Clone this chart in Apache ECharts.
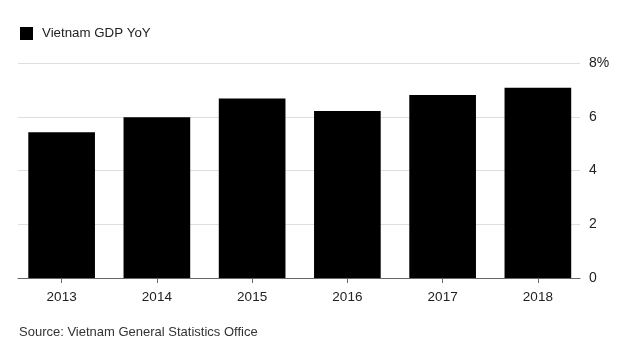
<!DOCTYPE html>
<html>
<head>
<meta charset="utf-8">
<script src="https://cdn.jsdelivr.net/npm/echarts@6/dist/echarts.min.js"></script>
<style>
html,body{margin:0;padding:0;background:#fff;}
#c{width:640px;height:356px;}
</style>
</head>
<body>
<div id="c"></div>
<script>
var categories = ['2013', '2014', '2015', '2016', '2017', '2018'];
var gdpYoY = [5.42, 5.98, 6.68, 6.21, 6.81, 7.08];
var seriesName = 'Vietnam GDP YoY';
var sourceText = 'Source: Vietnam General Statistics Office';
var yMin = 0, yMax = 8, yStep = 2;

var FONT = '"Liberation Sans", Arial, Helvetica, sans-serif';
var chart = echarts.init(document.getElementById('c'), null, {renderer: 'canvas'});
chart.setOption({
  backgroundColor: '#fff',
  animation: false,
  textStyle: {fontFamily: FONT},
  title: {
    text: sourceText,
    left: 14,
    top: 321,
    textStyle: {fontSize: 13, fontWeight: 'normal', color: '#333', fontFamily: FONT}
  },
  legend: {
    left: 15,
    top: 22,
    itemWidth: 13,
    itemHeight: 13,
    icon: 'rect',
    data: [seriesName],
    textStyle: {fontSize: 13.3, color: '#222', fontFamily: FONT, padding: [0, 0, 0, 4]}
  },
  grid: [
    {left: 18, right: 60, top: 63, bottom: 78},
    {left: 14, right: 54.5, top: 63, bottom: 78}
  ],
  xAxis: [
    {
      gridIndex: 0, type: 'value', min: 0, max: 1,
      axisLine: {show: true, lineStyle: {color: '#666', width: 1}},
      axisTick: {show: false}, axisLabel: {show: false}, splitLine: {show: false}
    },
    {
      gridIndex: 1, type: 'category', data: categories,
      axisLine: {show: false},
      axisTick: {show: true, alignWithLabel: true, length: 5, lineStyle: {color: '#666'}},
      axisLabel: {margin: 12, fontSize: 13.5, color: '#222', fontFamily: FONT},
      splitLine: {show: false}
    }
  ],
  yAxis: [
    {
      gridIndex: 0, type: 'value', position: 'right',
      min: yMin, max: yMax, interval: yStep,
      axisLine: {show: false}, axisTick: {show: false},
      axisLabel: {
        margin: 9, fontSize: 14, color: '#222', fontFamily: FONT,
        formatter: function (v) { return v === yMax ? v + '%' : String(v); }
      },
      splitLine: {show: true, lineStyle: {color: '#dedede', width: 1}}
    },
    {
      gridIndex: 1, type: 'value', min: yMin, max: yMax, interval: yStep,
      show: false, splitLine: {show: false}
    }
  ],
  series: [
    {
      name: seriesName,
      type: 'bar',
      xAxisIndex: 1,
      yAxisIndex: 1,
      data: gdpYoY,
      barWidth: '70%',
      itemStyle: {color: '#000'}
    }
  ]
});
</script>
</body>
</html>
